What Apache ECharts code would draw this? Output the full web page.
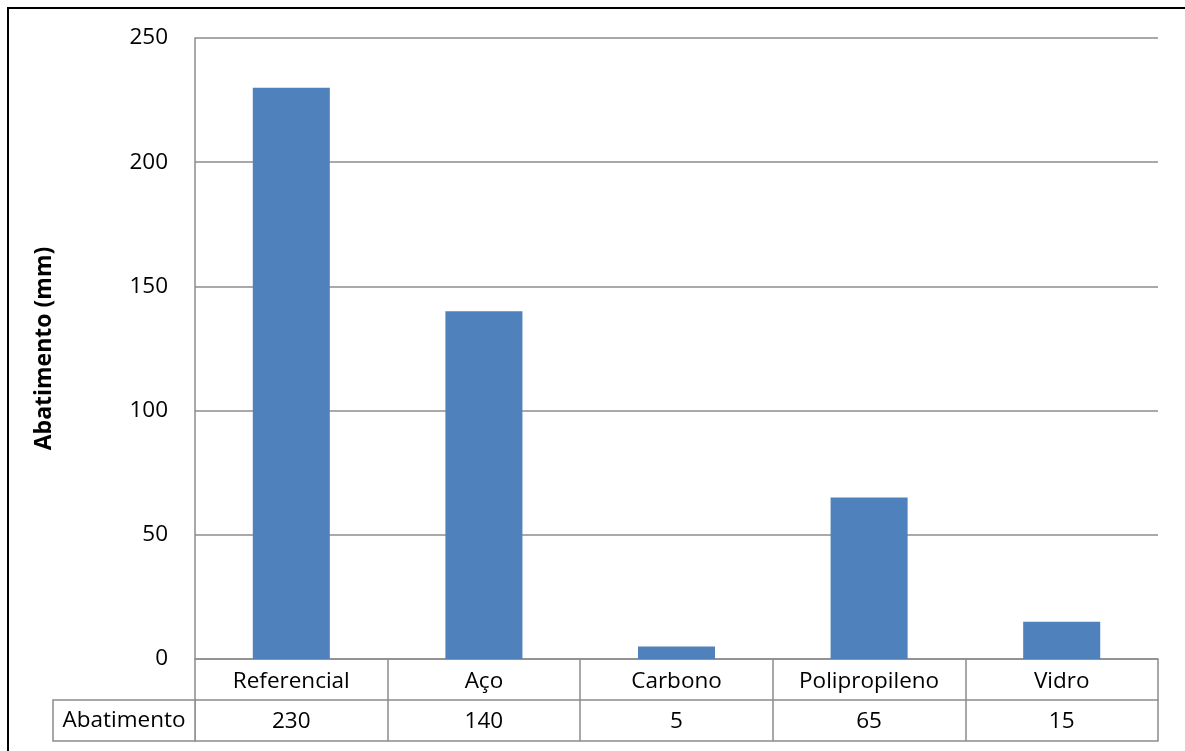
<!DOCTYPE html>
<html>
<head>
<meta charset="utf-8">
<script src="https://cdn.jsdelivr.net/npm/echarts@6/dist/echarts.min.js"></script>
<style>
  html, body { margin: 0; padding: 0; background: #fff; }
  #chart { width: 1185px; height: 751px; }
</style>
</head>
<body>
<div id="chart"></div>
<script>
// data
const categories = ['Referencial', 'Aço', 'Carbono', 'Polipropileno', 'Vidro'];
const abatimento = [230, 140, 5, 65, 15];
const seriesName = 'Abatimento';

const font = '"Open Sans", "Liberation Sans", sans-serif';
const gray = '#8c8c8c';

let chart = echarts.init(document.getElementById('chart'));

let option = {
    backgroundColor: '#fff',
    animation: false,
    grid: {
        left: 195,
        right: 27,
        top: 38,
        bottom: 92
    },
    xAxis: [{
        type: 'category',
        data: categories,
        position: 'bottom',
        axisLine: { show: true, lineStyle: { color: gray, width: 1.5 } },
        axisTick: { show: true, length: 82, lineStyle: { color: gray, width: 1.5 } },
        axisLabel: {
            color: '#000', fontFamily: font, fontSize: 22.5, margin: 11,
            interval: 0
        }
    }, {
        // values row of the data table
        type: 'category',
        data: abatimento.map(String),
        position: 'bottom',
        offset: 41,
        axisLine: { show: true, lineStyle: { color: gray, width: 1.5 } },
        axisTick: { show: false },
        axisLabel: {
            color: '#000', fontFamily: font, fontSize: 22.5, margin: 10,
            interval: 0
        }
    }, {
        type: 'category',
        data: categories,
        position: 'bottom',
        offset: 82,
        axisLine: { show: true, lineStyle: { color: gray, width: 1.5 } },
        axisTick: { show: false },
        axisLabel: { show: false }
    }],
    yAxis: {
        type: 'value',
        min: 0,
        max: 250,
        interval: 50,
        name: 'Abatimento (mm)',
        nameLocation: 'middle',
        nameGap: 139,
        nameRotate: 90,
        nameTextStyle: {
            color: '#000', fontFamily: font, fontSize: 23, fontWeight: 'bold'
        },
        axisLine: { show: true, lineStyle: { color: gray, width: 1.5 } },
        axisTick: { show: false },
        axisLabel: { color: '#000', fontFamily: font, fontSize: 22.5, margin: 27 },
        splitLine: { show: true, lineStyle: { color: gray, width: 1.5 } }
    },
    series: [{
        name: seriesName,
        type: 'bar',
        xAxisIndex: 0,
        data: abatimento,
        barWidth: '40%',
        itemStyle: { color: '#4F81BD' }
    }],
    graphic: [{
        // chart area border (left and top edges visible)
        type: 'polyline',
        shape: { points: [[8, 751], [8, 8], [1185, 8]] },
        style: { stroke: '#000', lineWidth: 2, fill: null },
        silent: true
    }, {
        // legend key cell of the data table
        type: 'rect',
        shape: { x: 53, y: 700, width: 142, height: 41 },
        style: { stroke: gray, lineWidth: 1.5, fill: '#fff' },
        z: 10
    }, {
        type: 'text',
        x: 124,
        y: 721,
        style: {
            text: seriesName,
            fill: '#000',
            font: '22.5px ' + font,
            align: 'center',
            verticalAlign: 'middle'
        },
        z: 11
    }]
};

chart.setOption(option);
</script>
</body>
</html>
